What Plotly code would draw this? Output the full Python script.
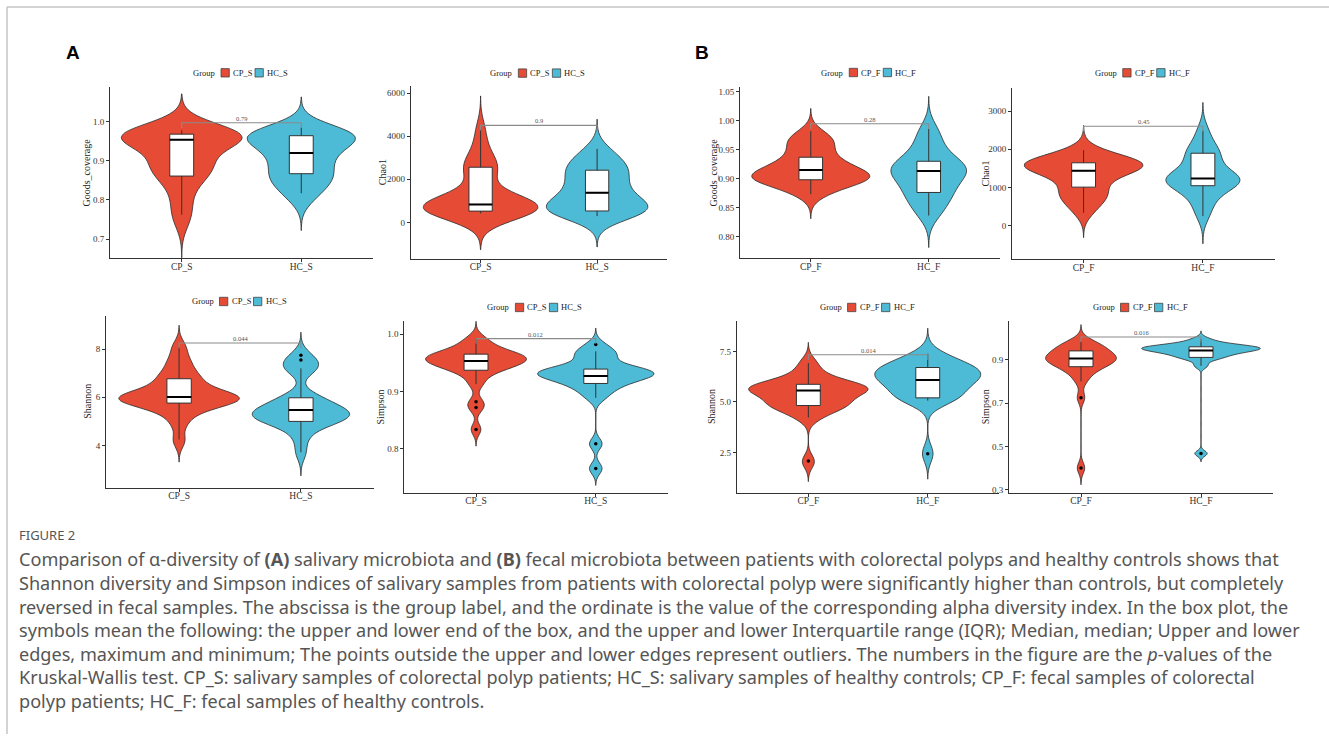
import numpy as np
import plotly.graph_objects as go

W, H = 1329, 736

# ---------------- data ----------------
groups_S = ["CP_S", "HC_S"]
groups_F = ["CP_F", "HC_F"]

goods_cp_s = [0.745, 0.77, 0.80, 0.83, 0.855, 0.86, 0.87, 0.88, 0.89, 0.895, 0.90, 0.91, 0.935,
              0.95, 0.953, 0.955, 0.958, 0.96, 0.962, 0.963, 0.965, 0.966, 0.968, 0.97, 0.972, 0.975, 0.978]
goods_hc_s = [0.80, 0.815, 0.83, 0.84, 0.85, 0.855, 0.865, 0.87, 0.88, 0.89, 0.90, 0.91, 0.92, 0.925,
              0.93, 0.94, 0.95, 0.955, 0.958, 0.96, 0.962, 0.965, 0.968, 0.97, 0.975, 0.98, 0.985]
chao_cp_s = [300, 380, 420, 480, 520, 560, 600, 650, 700, 720, 760, 800, 830, 880, 950, 1050, 1200,
             1500, 2100, 2400, 2550, 2700, 3000, 3500, 4300]
chao_hc_s = [250, 350, 450, 500, 550, 600, 650, 700, 800, 900, 1100, 1250, 1370, 1500, 1700, 1900,
             2100, 2300, 2400, 2500, 2700, 2900, 3100, 3400]
shan_cp_s = [4.2, 4.9, 5.3, 5.5, 5.65, 5.75, 5.8, 5.85, 5.9, 5.95, 6.0, 6.02, 6.05, 6.1, 6.2, 6.3,
             6.5, 6.7, 6.8, 7.0, 7.3, 7.6, 8.1]
shan_hc_s = [3.7, 4.3, 4.7, 4.9, 5.0, 5.05, 5.1, 5.15, 5.2, 5.3, 5.35, 5.4, 5.45, 5.5, 5.6, 5.7,
             5.85, 5.95, 6.1, 7.1, 7.2, 7.35, 7.55, 7.74]
simp_cp_s = [0.834, 0.871, 0.882, 0.912, 0.925, 0.935, 0.938, 0.942, 0.945, 0.948, 0.95, 0.952,
             0.954, 0.956, 0.958, 0.96, 0.962, 0.964, 0.966, 0.968, 0.972, 0.978, 0.985, 0.993]
simp_hc_s = [0.766, 0.809, 0.889, 0.90, 0.908, 0.913, 0.918, 0.922, 0.925, 0.927, 0.929, 0.931,
             0.933, 0.935, 0.937, 0.939, 0.942, 0.948, 0.96, 0.965, 0.97, 0.981]

goods_cp_f = [0.872, 0.88, 0.888, 0.893, 0.896, 0.898, 0.90, 0.901, 0.903, 0.905, 0.908, 0.912,
              0.915, 0.918, 0.922, 0.928, 0.935, 0.94, 0.95, 0.96, 0.965, 0.97, 0.98]
goods_hc_f = [0.835, 0.845, 0.855, 0.865, 0.872, 0.876, 0.882, 0.89, 0.897, 0.903, 0.908, 0.911,
              0.913, 0.916, 0.92, 0.924, 0.928, 0.931, 0.94, 0.95, 0.962, 0.975, 0.988]
chao_cp_f = [340, 550, 700, 780, 850, 1000, 1100, 1250, 1350, 1420, 1440, 1500, 1550, 1580, 1600,
             1620, 1650, 1670, 1700, 1750, 1850, 1970]
chao_hc_f = [250, 500, 700, 850, 1000, 1040, 1100, 1150, 1200, 1220, 1240, 1260, 1300, 1400, 1550,
             1700, 1850, 1900, 2000, 2200, 2500]
shan_cp_f = [2.05, 4.2, 4.5, 4.7, 4.8, 4.85, 4.95, 5.05, 5.2, 5.4, 5.5, 5.55, 5.6, 5.65, 5.7, 5.75,
             5.8, 5.88, 6.0, 6.2, 6.5, 6.95]
shan_hc_f = [2.44, 5.06, 5.15, 5.2, 5.3, 5.5, 5.7, 5.9, 6.0, 6.08, 6.15, 6.25, 6.35, 6.45, 6.55,
             6.65, 6.7, 6.8, 6.95, 7.1, 7.38]
simp_cp_f = [0.40, 0.725, 0.80, 0.83, 0.85, 0.865, 0.87, 0.88, 0.89, 0.895, 0.90, 0.905, 0.91,
             0.915, 0.92, 0.93, 0.94, 0.945, 0.955, 0.965, 0.975, 0.985]
simp_hc_f = [0.467, 0.872, 0.90, 0.91, 0.915, 0.925, 0.93, 0.935, 0.94, 0.943, 0.946, 0.95, 0.952,
             0.955, 0.957, 0.96, 0.962, 0.965, 0.97, 0.98, 0.995]

# box statistics [q1, median, q3, lower whisker, upper whisker]
box_goods_cp_s = [0.861, 0.954, 0.968, 0.762, 0.978]
box_goods_hc_s = [0.867, 0.920, 0.964, 0.817, 0.985]
box_chao_cp_s = [523, 833, 2560, 417, 4338]
box_chao_hc_s = [530, 1375, 2421, 292, 3412]
box_shan_cp_s = [5.76, 6.01, 6.77, 4.25, 8.08]
box_shan_hc_s = [5.00, 5.47, 5.98, 3.72, 7.20]
box_simp_cp_s = [0.937, 0.953, 0.965, 0.913, 0.993]
box_simp_hc_s = [0.914, 0.927, 0.939, 0.889, 0.970]
box_goods_cp_f = [0.898, 0.915, 0.937, 0.873, 0.982]
box_goods_hc_f = [0.876, 0.913, 0.930, 0.836, 0.986]
box_chao_cp_f = [1008, 1436, 1645, 337, 1974]
box_chao_hc_f = [1045, 1235, 1895, 250, 2488]
box_shan_cp_f = [4.82, 5.56, 5.87, 4.23, 6.92]
box_shan_hc_f = [5.20, 6.08, 6.70, 5.06, 7.38]
box_simp_cp_f = [0.868, 0.906, 0.941, 0.80, 0.985]
box_simp_hc_f = [0.911, 0.943, 0.960, 0.872, 0.995]

# outliers
out_shan_hc_s = [7.55, 7.74]
out_simp_cp_s = [0.882, 0.872, 0.834]
out_simp_hc_s = [0.982, 0.809, 0.766]
out_shan_cp_f = [2.08]
out_shan_hc_f = [2.44]
out_simp_cp_f = [0.725, 0.40]
out_simp_hc_f = [0.467]

# Kruskal-Wallis p-values and bracket heights
p_values = ["0.79", "0.9", "0.28", "0.45", "0.044", "0.012", "0.014", "0.016"]
bracket_y = [0.997, 4500, 0.995, 2600, 8.25, 0.992, 7.33, 1.005]

y_titles = ["Goods_coverage", "Chao1", "Goods_coverage", "Chao1",
            "Shannon", "Simpson", "Shannon", "Simpson"]
y_ticks = [[0.7, 0.8, 0.9, 1.0], [0, 2000, 4000, 6000], [0.80, 0.85, 0.90, 0.95, 1.00, 1.05],
           [0, 1000, 2000, 3000], [4, 6, 8], [0.8, 0.9, 1.0], [2.5, 5.0, 7.5], [0.3, 0.5, 0.7, 0.9]]
y_tickformat = [".1f", "d", ".2f", "d", "d", ".1f", ".1f", ".1f"]

panel_samples = [(goods_cp_s, goods_hc_s), (chao_cp_s, chao_hc_s), (goods_cp_f, goods_hc_f),
                 (chao_cp_f, chao_hc_f), (shan_cp_s, shan_hc_s), (simp_cp_s, simp_hc_s),
                 (shan_cp_f, shan_hc_f), (simp_cp_f, simp_hc_f)]
panel_boxes = [(box_goods_cp_s, box_goods_hc_s), (box_chao_cp_s, box_chao_hc_s),
               (box_goods_cp_f, box_goods_hc_f), (box_chao_cp_f, box_chao_hc_f),
               (box_shan_cp_s, box_shan_hc_s), (box_simp_cp_s, box_simp_hc_s),
               (box_shan_cp_f, box_shan_hc_f), (box_simp_cp_f, box_simp_hc_f)]
panel_outliers = [([], []), ([], []), ([], []), ([], []), ([], out_shan_hc_s),
                  (out_simp_cp_s, out_simp_hc_s), (out_shan_cp_f, out_shan_hc_f),
                  (out_simp_cp_f, out_simp_hc_f)]
panel_groups = [groups_S, groups_S, groups_F, groups_F, groups_S, groups_S, groups_F, groups_F]

# ---------------- layout / style ----------------
RED, BLUE = "#E64B35", "#4DBBD5"
SERIF = "Liberation Serif"
# plot rectangles in pixels: left, right, top, bottom
rects = [(110, 373, 87, 259), (410.7, 667, 86.7, 259.3), (740, 999.5, 87, 259),
         (1012, 1274.5, 88, 260), (106, 374, 316.7, 489), (404.2, 667.6, 321.7, 494),
         (736.7, 999.4, 321.7, 494), (1009, 1273, 321.7, 494)]
y_ranges = [[0.651, 1.089], [-1680, 6306], [0.762, 1.059], [-880, 3608],
            [2.25, 9.38], [0.724, 1.023], [0.51, 9.01], [0.286, 1.08]]
vwidths = [(1.01, 0.90), (0.98, 0.87), (1.0, 0.64), (0.99, 0.62),
           (0.99, 0.80), (0.84, 0.97), (1.0, 0.885), (0.59, 0.99)]
title_off = [23, 28, 26, 26, 18, 23.5, 24.5, 23.5]
legend_y = [73, 73.3, 72.7, 73, 302.3, 308.3, 308.3, 308.3]


def nrd0(x):
    x = np.asarray(x, dtype=float)
    sd = x.std(ddof=1)
    q75, q25 = np.percentile(x, [75, 25])
    lo = min(sd, (q75 - q25) / 1.34)
    if lo <= 0:
        lo = sd
    return 0.9 * lo * len(x) ** (-0.2)


fig = go.Figure()
shapes, annotations = [], []
layout_axes = {}

for i in range(8):
    k = i + 1
    xa, ya = ("x" if k == 1 else f"x{k}"), ("y" if k == 1 else f"y{k}")
    l, r, t, b = rects[i]
    layout_axes["xaxis" if k == 1 else f"xaxis{k}"] = dict(
        domain=[l / W, r / W], anchor=ya, range=[0.4, 2.6], tickvals=[1, 2],
        ticktext=panel_groups[i], showline=True, linecolor="#333", linewidth=1,
        ticks="outside", ticklen=3, tickcolor="#333", showgrid=False, zeroline=False,
        ticklabelstandoff=-4,
        tickfont=dict(family=SERIF, size=9.5, color="#333"), fixedrange=True)
    layout_axes["yaxis" if k == 1 else f"yaxis{k}"] = dict(
        domain=[1 - b / H, 1 - t / H], anchor=xa, range=y_ranges[i], tickvals=y_ticks[i],
        tickformat=y_tickformat[i], showline=True, linecolor="#333", linewidth=1,
        ticks="outside", ticklen=3, tickcolor="#333", showgrid=False, zeroline=False,
        tickfont=dict(family=SERIF, size=9, color="#333"), fixedrange=True)

    for j, (samples, box, outs, color) in enumerate(zip(panel_samples[i], panel_boxes[i],
                                                         panel_outliers[i], (RED, BLUE))):
        pos = j + 1
        bw = nrd0(samples)
        fig.add_trace(go.Violin(
            x=[pos] * len(samples), y=samples, xaxis=xa, yaxis=ya, fillcolor=color,
            line=dict(color="#2b2b2b", width=0.8), opacity=1, bandwidth=bw,
            spanmode="manual", span=[min(samples) - 3 * bw, max(samples) + 3 * bw],
            scalemode="width", width=vwidths[i][j], points=False, box_visible=False,
            meanline_visible=False, showlegend=False, hoverinfo="skip"))
        q1, med, q3, lo, hi = box
        fig.add_trace(go.Box(
            x=[pos], q1=[q1], median=[med], q3=[q3], lowerfence=[lo], upperfence=[hi],
            xaxis=xa, yaxis=ya, width=0.2, fillcolor="white", whiskerwidth=0,
            line=dict(color="#333", width=1), boxpoints=False, showlegend=False,
            hoverinfo="skip"))
        fig.add_trace(go.Scatter(
            x=[pos - 0.1, pos + 0.1], y=[med, med], xaxis=xa, yaxis=ya, mode="lines",
            line=dict(color="black", width=2), showlegend=False, hoverinfo="skip"))
        if outs:
            fig.add_trace(go.Scatter(
                x=[pos] * len(outs), y=outs, xaxis=xa, yaxis=ya, mode="markers",
                marker=dict(color="black", size=3.5), showlegend=False, hoverinfo="skip"))

    # significance bracket
    by = bracket_y[i]
    d = 0.03 * (y_ranges[i][1] - y_ranges[i][0])
    shapes.append(dict(type="path", xref=xa, yref=ya,
                       path=f"M 1 {by - d} L 1 {by} L 2 {by} L 2 {by - d}",
                       line=dict(color="#8a8a8a", width=1.1)))
    annotations.append(dict(xref=xa, yref=ya, x=1.5, y=by, text=p_values[i], showarrow=False,
                            yanchor="bottom", yshift=-1, font=dict(family=SERIF, size=6.5, color="#555")))

    # y axis title
    annotations.append(dict(xref="paper", yref="paper", x=(l - title_off[i]) / W,
                            y=1 - (t + b) / 2 / H, text=y_titles[i], textangle=-90,
                            showarrow=False, xanchor="center", yanchor="middle",
                            font=dict(family=SERIF, size=10, color="#222")))

    # legend
    cx, cy = (l + r) / 2, legend_y[i]
    annotations.append(dict(xref="paper", yref="paper", x=(cx - 24.5) / W, y=1 - cy / H,
                            text="Group", showarrow=False, xanchor="right", yanchor="middle",
                            font=dict(family=SERIF, size=8.5, color="#222")))
    for g, (off, color) in enumerate([(-20.5, RED), (13.5, BLUE)]):
        shapes.append(dict(type="rect", xref="paper", yref="paper",
                           x0=(cx + off) / W, x1=(cx + off + 8.3) / W,
                           y0=1 - (cy + 4.2) / H, y1=1 - (cy - 4.2) / H,
                           fillcolor=color, line=dict(color="#444", width=0.8)))
        annotations.append(dict(xref="paper", yref="paper", x=(cx + off + 10) / W,
                                y=1 - cy / H, text=panel_groups[i][g], showarrow=False,
                                xanchor="left", yanchor="middle",
                                font=dict(family=SERIF, size=8.5, color="#222")))

# frame lines
shapes.append(dict(type="line", xref="paper", yref="paper", x0=7 / W, x1=1, y0=1 - 7 / H,
                   y1=1 - 7 / H, line=dict(color="#c4c4c4", width=1.5)))
shapes.append(dict(type="line", xref="paper", yref="paper", x0=7 / W, x1=7 / W, y0=0,
                   y1=1 - 7 / H, line=dict(color="#c4c4c4", width=1.5)))

# panel letters
for letter, px in (("A", 73), ("B", 702)):
    annotations.append(dict(xref="paper", yref="paper", x=px / W, y=1 - 53 / H,
                            text=f"<b>{letter}</b>", showarrow=False, xanchor="center",
                            yanchor="middle",
                            font=dict(family="Liberation Sans", size=19, color="black")))

# caption
caption_title = "FIGURE 2"
caption_lines = [
    "Comparison of α-diversity of <b>(A)</b> salivary microbiota and <b>(B)</b> fecal microbiota between patients with colorectal polyps and healthy controls shows that",
    "Shannon diversity and Simpson indices of salivary samples from patients with colorectal polyp were significantly higher than controls, but completely",
    "reversed in fecal samples. The abscissa is the group label, and the ordinate is the value of the corresponding alpha diversity index. In the box plot, the",
    "symbols mean the following: the upper and lower end of the box, and the upper and lower Interquartile range (IQR); Median, median; Upper and lower",
    "edges, maximum and minimum; The points outside the upper and lower edges represent outliers. The numbers in the figure are the <i>p</i>-values of the",
    "Kruskal-Wallis test. CP_S: salivary samples of colorectal polyp patients; HC_S: salivary samples of healthy controls; CP_F: fecal samples of colorectal",
    "polyp patients; HC_F: fecal samples of healthy controls.",
]
annotations.append(dict(xref="paper", yref="paper", x=17 / W, y=1 - 536 / H, text=caption_title,
                        showarrow=False, xanchor="left", yanchor="middle",
                        font=dict(family="Noto Sans", size=13, color="#555")))
line_y = [561, 585, 609, 632, 656, 679, 703]
for txt, yy in zip(caption_lines, line_y):
    annotations.append(dict(xref="paper", yref="paper", x=17 / W, y=1 - yy / H, text=txt,
                            showarrow=False, xanchor="left", yanchor="middle",
                            font=dict(family="Noto Sans", size=18.1, color="#555")))

fig.update_layout(width=W, height=H, margin=dict(l=0, r=0, t=0, b=0), autosize=False,
                  paper_bgcolor="white", plot_bgcolor="white", showlegend=False,
                  violinmode="overlay", boxmode="overlay", shapes=shapes,
                  annotations=annotations, **layout_axes)

fig.write_html("out.html", config=dict(displayModeBar=False),
               post_script="document.body.style.margin='0px';document.body.style.overflow='hidden';")
